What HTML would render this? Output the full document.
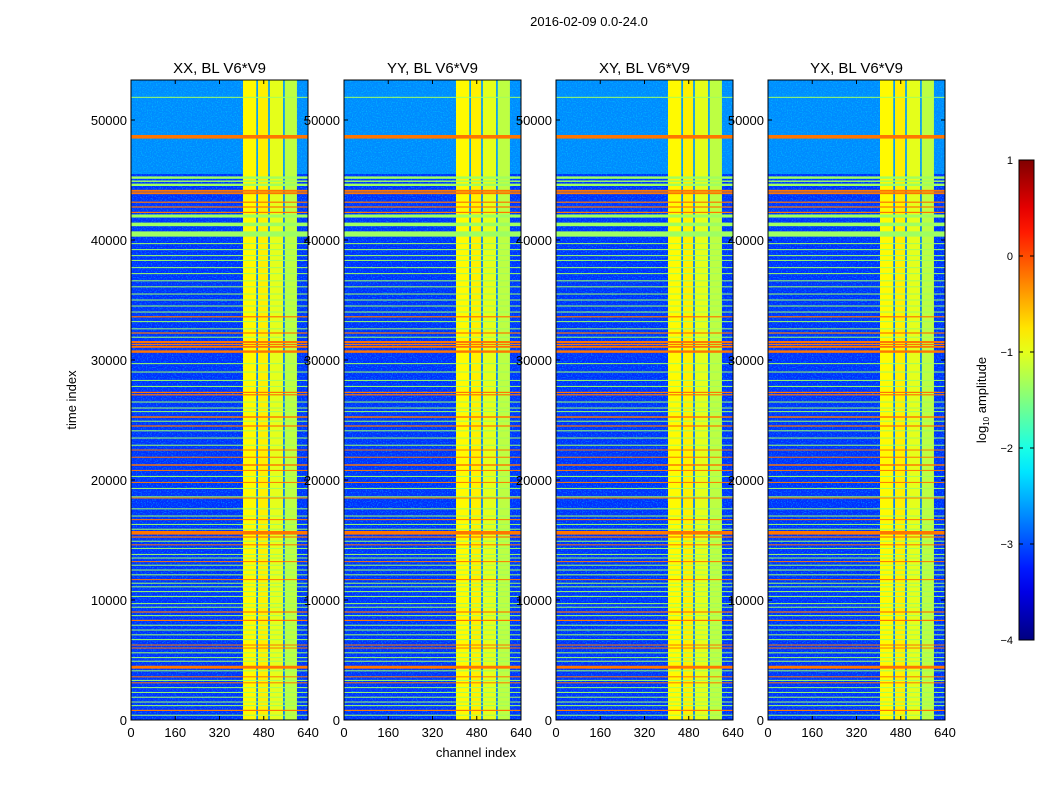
<!DOCTYPE html>
<html><head><meta charset="utf-8">
<style>
body{margin:0;background:#fff;width:1050px;height:800px;overflow:hidden;font-family:"Liberation Sans",sans-serif}
svg text{font-family:"Liberation Sans",sans-serif}
</style></head>
<body>
<svg id="fig" width="1050" height="800" xmlns="http://www.w3.org/2000/svg">
<defs>
<filter id="speckle" x="0" y="0" width="100%" height="100%">
<feTurbulence type="fractalNoise" baseFrequency="0.8" numOctaves="1" seed="3" result="n"/>
<feColorMatrix type="matrix" values="0 0 0 0 0  0 0 0 0 0.75  0 0 0 0 1  0 0 0 -3 1.6"/>
</filter>
</defs>
<text x="589" y="26" font-size="13" text-anchor="middle">2016-02-09 0.0-24.0</text>
</svg>
<script>
// ---- data ----
const panelTitles = ["XX, BL V6*V9","YY, BL V6*V9","XY, BL V6*V9","YX, BL V6*V9"];
const xTicks = [0,160,320,480,640];
const yTicks = [0,10000,20000,30000,40000,50000];
const cbTicks = [1,0,-1,-2,-3,-4];
const cbTickLabels = ["1","0","\u22121","\u22122","\u22123","\u22124"];
// background regions
const bgStarts = [0, 45500];
const bgEnds = [45500, 53400];
const bgValues = [-3.15, -2.7];
// vertical band columns
const bandStarts = [405, 459, 502, 556];
const bandEnds = [453, 496, 550, 600];
const bandValues = [-0.85, -0.8, -1.0, -1.2];
const darkCols = [456, 499, 553];
const darkColValue = -2.6;
// orange stripes (time index centres, half-thickness)
const orangeT = [48600,44100,43900,43150,42750,42300,33600,32250,31500,31300,31100,30700,27300,27100,25250,24500,22500,21900,21250,20800,19800,18500,16700,15600,15250,14600,13200,11700,9000,8300,6250,6000,4400,3600,3100,800];
const orangeW = [150,80,80,50,50,50,50,50,80,50,80,100,50,50,60,50,40,40,60,40,40,40,40,150,50,40,40,40,50,50,40,40,120,40,40,50];
const orangeValue = -0.2;
// green stripes
const greenT = [51900,45200,44900,44600,42000,41300,40500,39700,39200,38700,38300,37700,37200,36600,36100,35500,35000,34500,34000,33200,32600,31900,29700,29000,28300,27800,26500,26000,25700,24900,24100,23500,22900,20300,19300,18600,17600,17000,16300,15900,14900,14300,13800,13500,12900,12500,12100,11400,11100,10700,10300,9700,9400,8700,7900,7500,7100,6700,5600,5200,4900,4100,3300,2700,2300,1900,1500,1200,400];
const greenW = [30,100,60,100,130,150,220,40,40,40,40,40,40,40,40,40,40,40,40,40,40,40,40,40,40,40,40,40,40,40,40,40,40,40,40,40,40,40,40,40,40,40,40,40,40,40,40,40,40,40,40,40,40,40,40,40,40,40,40,40,40,40,40,40,40,40,40,40,40];
const greenValue = -1.35;

// ---- helpers ----
const NS="http://www.w3.org/2000/svg";
const svg=document.getElementById('fig');
function jet(v){const x=Math.max(0,Math.min(1,(v+4)/5));const c=t=>Math.round(255*Math.max(0,Math.min(1,1.5-Math.abs(t))));return `rgb(${c(4*x-3)},${c(4*x-2)},${c(4*x-1)})`;}
function mk(tag,attrs,parent){const e=document.createElementNS(NS,tag);for(const k in attrs)e.setAttribute(k,attrs[k]);(parent||svg).appendChild(e);return e;}
const panelX=[131,344,556,768], PW=177, PT=80, PB=720;
const tMax=(PB-PT)/600*50000;

panelX.forEach((px,pi)=>{
  const xs=ch=>px+ch/640*PW;
  const ys=t=>PB-t/tMax*(PB-PT);
  const g=mk('g',{});
  
  
  const cid='clip'+pi;
  const cp=mk('clipPath',{id:cid},g);mk('rect',{x:px,y:PT,width:PW,height:PB-PT},cp);
  const h=mk('g',{'clip-path':`url(#${cid})`},g);
  for(let i=0;i<bgStarts.length;i++){
    const r=mk('rect',{x:px,y:ys(bgEnds[i]),width:PW,height:ys(bgStarts[i])-ys(bgEnds[i]),fill:jet(bgValues[i])},h);
    
    
  }
  mk('rect',{x:px,y:PT,width:PW,height:PB-PT,filter:'url(#speckle)',opacity:0.5},h);
  for(let i=0;i<bandStarts.length;i++){
    const r=mk('rect',{x:xs(bandStarts[i]),y:PT,width:xs(bandEnds[i])-xs(bandStarts[i]),height:PB-PT,fill:jet(bandValues[i])},h);
    
    
  }
  darkCols.forEach(c=>{
    const r=mk('rect',{x:xs(c-2),y:PT,width:xs(4)-xs(0),height:PB-PT,fill:jet(darkColValue)},h);
    
    
  });
  greenT.forEach((t,i)=>{
    const y0=ys(t+greenW[i]),y1=ys(t-greenW[i]);
    const r=mk('rect',{x:px,y:y0,width:PW,height:Math.max(1,y1-y0),fill:jet(greenValue)},h);
    
    
  });
  orangeT.forEach((t,i)=>{
    const y0=ys(t+orangeW[i]),y1=ys(t-orangeW[i]);
    const r=mk('rect',{x:px,y:y0,width:PW,height:Math.max(1,y1-y0),fill:jet(orangeValue)},h);
    
    
  });
  mk('rect',{x:px,y:PT,width:PW,height:PB-PT,fill:'none',stroke:'#000','stroke-width':1},g);
  xTicks.forEach(v=>{
    const x=xs(v);
    mk('line',{x1:x,x2:x,y1:PB,y2:PB-4,stroke:'#000'},g);
    mk('line',{x1:x,x2:x,y1:PT,y2:PT+4,stroke:'#000'},g);
    const t=mk('text',{x:x,y:PB+17,'font-size':13,'text-anchor':'middle'},g);t.textContent=v;
    
    
  });
  yTicks.forEach(v=>{
    const y=ys(v);
    mk('line',{x1:px,x2:px+4,y1:y,y2:y,stroke:'#000'},g);
    mk('line',{x1:px+PW,x2:px+PW-4,y1:y,y2:y,stroke:'#000'},g);
    const t=mk('text',{x:px-4,y:y+5,'font-size':13,'text-anchor':'end'},g);t.textContent=v;
    
    
  });
  const tt=mk('text',{x:px+PW/2,y:73,'font-size':15,'text-anchor':'middle'},g);tt.textContent=panelTitles[pi];
  
  
});
const yl=mk('text',{x:0,y:0,'font-size':13,'text-anchor':'middle',transform:'translate(76,400) rotate(-90)'});yl.textContent='time index';


const xl=mk('text',{x:476,y:757,'font-size':13,'text-anchor':'middle'});xl.textContent='channel index';



// colorbar
const cb=mk('g',{});


const CB0=160,CB1=640;
const grad=mk('linearGradient',{id:'jetg',x1:0,y1:1,x2:0,y2:0},mk('defs',{}));
for(let i=0;i<=20;i++){const v=-4+i*0.25;mk('stop',{offset:i/20,'stop-color':jet(v)},grad);}
mk('rect',{x:1019,y:CB0,width:15,height:CB1-CB0,fill:'url(#jetg)',stroke:'#000','stroke-width':1},cb);
cbTicks.forEach((v,i)=>{
  const y=CB0+(1-v)/5*(CB1-CB0);
  mk('line',{x1:1019,x2:1023,y1:y,y2:y,stroke:'#000'},cb);
  mk('line',{x1:1034,x2:1030,y1:y,y2:y,stroke:'#000'},cb);
  const t=mk('text',{x:1013,y:y+4,'font-size':11,'text-anchor':'end'},cb);t.textContent=cbTickLabels[i];
  
  
});
const cl=mk('text',{x:0,y:0,'font-size':13,'text-anchor':'middle',transform:'translate(986,400) rotate(-90)'},cb);
cl.innerHTML='log<tspan font-size="8" dy="3">10</tspan><tspan dy="-3"> amplitude</tspan>';


</script>
</body></html>
